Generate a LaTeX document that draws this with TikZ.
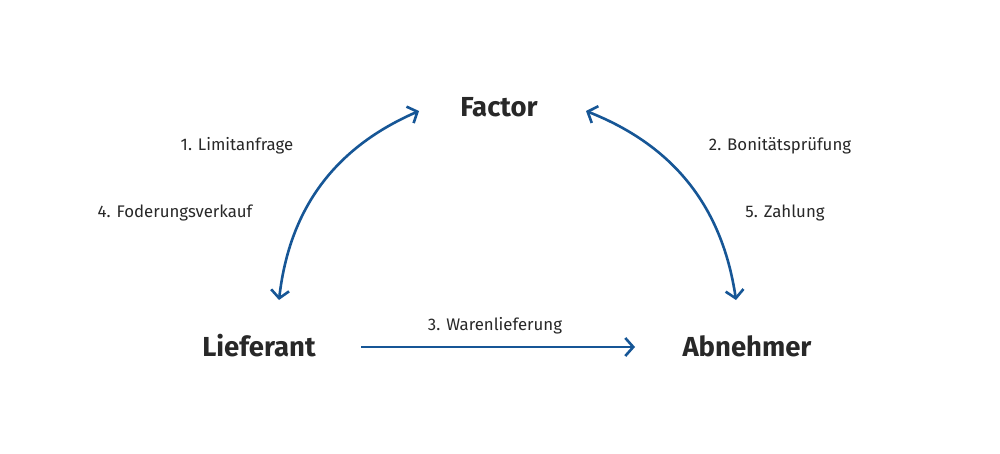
\documentclass[tikz,border=0pt]{standalone}
\usepackage{fontspec}
\setmainfont{Fira Sans}
\usetikzlibrary{arrows.meta}
\definecolor{flowblue}{RGB}{22,86,150}
\definecolor{labelgray}{RGB}{40,40,40}

\begin{document}
\begin{tikzpicture}[x=1pt,y=1pt,yscale=-1,xscale=1,
  party/.style={font=\fontsize{27.5}{32}\selectfont\bfseries,text=labelgray},
  stepnote/.style={font=\fontsize{16.8}{20}\selectfont,text=labelgray},
  tip/.style={Straight Barb[length=8pt,width=18pt]},
  flow/.style={flowblue,line width=2.6pt,{Straight Barb[length=8pt,width=18pt]}-{Straight Barb[length=8pt,width=18pt]}}]
\useasboundingbox[fill=white] (0,0) rectangle (1000,454);

% Parties
\node[party] (factor) at (499,107) {Factor};
\node[party] (lief) at (259,346) {Lieferant};
\node[party] (abn) at (747,346) {Abnehmer};

% Arrow ends
\coordinate (lb) at (279,300);
\coordinate (lt) at (419,111);
\coordinate (rt) at (586,111);
\coordinate (rb) at (736,300);
\coordinate (bl) at (361,347);
\coordinate (br) at (635,347);

% Arrows
\draw[flow] (lb) to[bend right=30] (lt);
\draw[flow] (rt) to[bend right=30] (rb);
\draw[flowblue,line width=2.6pt,-{Straight Barb[length=8pt,width=18pt]}] (bl) -- (br);

% Step labels
\node[stepnote] (s1) at (237,146) {1. Limitanfrage};
\node[stepnote] (s4) at (175,213) {4. Foderungsverkauf};
\node[stepnote] (s2) at (780,146) {2. Bonitätsprüfung};
\node[stepnote] (s5) at (785,213) {5. Zahlung};
\node[stepnote] (s3) at (495,326) {3. Warenlieferung};
\end{tikzpicture}
\end{document}
